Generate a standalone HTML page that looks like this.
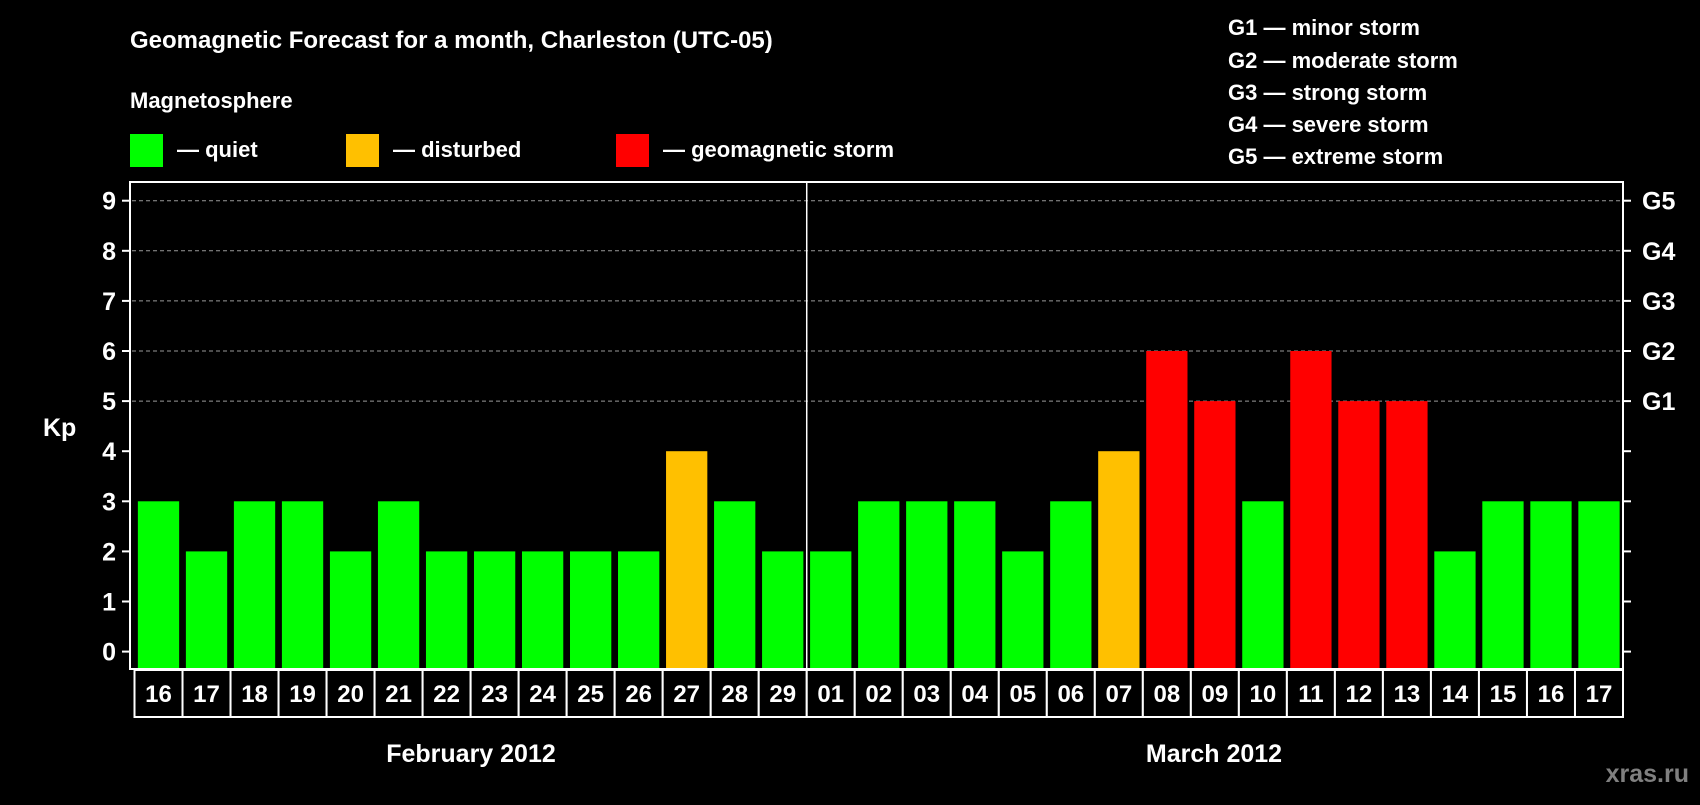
<!DOCTYPE html>
<html><head><meta charset="utf-8"><style>
html,body{margin:0;padding:0;background:#000;}
svg text{font-family:"Liberation Sans",Arial,sans-serif;font-weight:bold;}
</style></head><body>
<svg width="1700" height="800" viewBox="0 0 1700 800" xmlns="http://www.w3.org/2000/svg">
<rect width="1700" height="800" fill="#000"/>
<text x="130" y="48" font-size="24" fill="#fff">Geomagnetic Forecast for a month, Charleston (UTC-05)</text>
<text x="130" y="108" font-size="22" fill="#fff">Magnetosphere</text>
<g>
<rect x="130" y="134" width="33" height="33" fill="#00ff00"/>
<text x="177" y="157" font-size="22" fill="#fff">— quiet</text>
<rect x="346" y="134" width="33" height="33" fill="#ffc000"/>
<text x="393" y="157" font-size="22" fill="#fff">— disturbed</text>
<rect x="616" y="134" width="33" height="33" fill="#ff0000"/>
<text x="663" y="157" font-size="22" fill="#fff">— geomagnetic storm</text>
</g>
<g font-size="22" fill="#fff">
<text x="1228" y="35">G1 — minor storm</text>
<text x="1228" y="68">G2 — moderate storm</text>
<text x="1228" y="100">G3 — strong storm</text>
<text x="1228" y="132">G4 — severe storm</text>
<text x="1228" y="164">G5 — extreme storm</text>
</g>
<text x="43" y="436" font-size="25" fill="#fff">Kp</text>
<g id="plot"></g>
<text x="471" y="762" font-size="25" fill="#fff" text-anchor="middle">February 2012</text>
<text x="1214" y="762" font-size="25" fill="#fff" text-anchor="middle">March 2012</text>
<text x="1689" y="782" font-size="25" fill="#808080" text-anchor="end">xras.ru</text>
</svg>
<script>
const days=["16","17","18","19","20","21","22","23","24","25","26","27","28","29","01","02","03","04","05","06","07","08","09","10","11","12","13","14","15","16","17"];
const kp=[3,2,3,3,2,3,2,2,2,2,2,4,3,2,2,3,3,3,2,3,4,6,5,3,6,5,5,2,3,3,3];
const yTicks=[0,1,2,3,4,5,6,7,8,9];
const gLabels=["G1","G2","G3","G4","G5"];
const gLevels=[5,6,7,8,9];
const monthSplit=14;
const NS="http://www.w3.org/2000/svg";
const g=document.getElementById('plot');
const L=130,R=1623,T=182,B=669,slotL=134.5,slotR=1623;
const slot=(slotR-slotL)/days.length;
const y=v=>651.6-v*50.1;
const x=i=>slotL+i*slot;
function mk(t,a){const e=document.createElementNS(NS,t);for(const k in a)e.setAttribute(k,a[k]);g.appendChild(e);return e;}
// grid
gLevels.forEach(v=>{const l=mk('line',{x1:L+2,x2:R,y1:y(v),y2:y(v),stroke:'#999','stroke-dasharray':'4 3','stroke-width':1});

});
// bars
kp.forEach((v,i)=>{const c=v>=5?'#ff0000':v>=4?'#ffc000':'#00ff00';
const w=slot*0.86;const r=mk('rect',{x:x(i)+(slot-w)/2,y:y(v),width:w,height:y(0)-y(v)+17,fill:c});

});
// frame
const f=mk('rect',{x:L,y:T,width:R-L,height:B-T,fill:'none',stroke:'#fff','stroke-width':2});


const d=mk('line',{x1:x(monthSplit),x2:x(monthSplit),y1:T,y2:B,stroke:'#fff','stroke-width':1.5});


// y ticks
yTicks.forEach(v=>{const t=mk('line',{x1:L-8,x2:L,y1:y(v),y2:y(v),stroke:'#fff','stroke-width':2});


const t2=mk('line',{x1:R,x2:R+8,y1:y(v),y2:y(v),stroke:'#fff','stroke-width':2});


const tx=mk('text',{x:L-14,y:y(v)+9,'font-size':25,fill:'#fff','text-anchor':'end'});tx.textContent=v;

});
gLabels.forEach((s,i)=>{const tx=mk('text',{x:R+19,y:y(gLevels[i])+9,'font-size':25,fill:'#fff'});tx.textContent=s;

});
// date boxes
days.forEach((s,i)=>{const r=mk('rect',{x:x(i),y:B+1,width:slot,height:47,fill:'#000',stroke:'#fff','stroke-width':2});


const tx=mk('text',{x:x(i)+slot/2,y:B+33,'font-size':24,fill:'#fff','text-anchor':'middle'});tx.textContent=s;

});
</script>
</body></html>
